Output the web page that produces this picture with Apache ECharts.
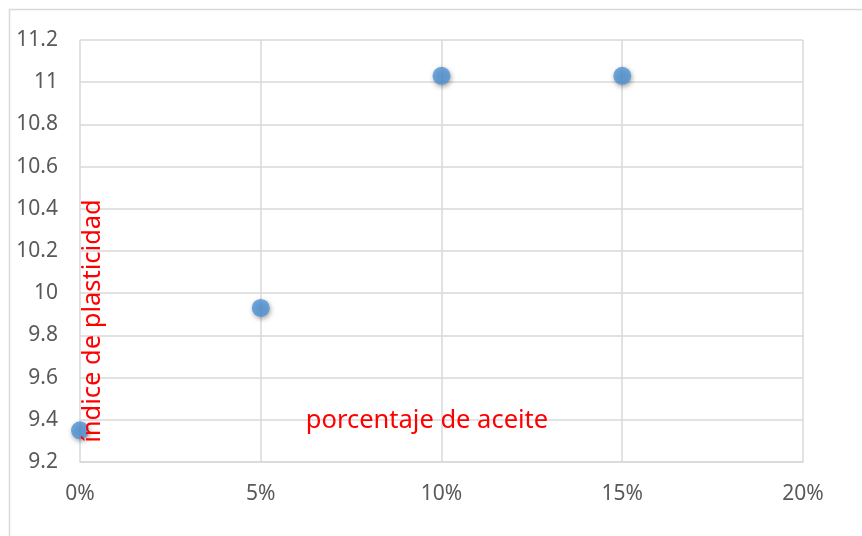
<!DOCTYPE html>
<html>
<head>
<meta charset="utf-8">
<script src="https://cdn.jsdelivr.net/npm/echarts@6/dist/echarts.min.js"></script>
<style>
  html, body { margin: 0; padding: 0; background: #fff; }
  #chart { width: 862px; height: 536px; }
</style>
</head>
<body>
<div id="chart"></div>
<script>
// Oil percentage (fraction) vs plasticity index
const oilPercent = [0, 0.05, 0.10, 0.15];
const plasticityIndex = [9.35, 9.93, 11.03, 11.03];
const xTitle = 'porcentaje de aceite';
const yTitle = 'índice de plasticidad';

const gridColor = '#d9d9d9';
const labelColor = '#595959';
const fontFamily = '"Noto Sans", "Liberation Sans", sans-serif';

const chart = echarts.init(document.getElementById('chart'), null, { renderer: 'canvas' });

chart.setOption({
  backgroundColor: '#ffffff',
  animation: false,
  grid: { left: 80, right: 59, top: 40, bottom: 74, containLabel: false },
  xAxis: {
    type: 'value',
    min: 0,
    max: 0.2,
    interval: 0.05,
    axisLine: { show: true, lineStyle: { color: gridColor, width: 1.5 } },
    axisTick: { show: false },
    splitLine: { show: true, lineStyle: { color: gridColor, width: 1.5 } },
    axisLabel: {
      color: labelColor,
      fontFamily: fontFamily,
      fontSize: 21,
      margin: 22,
      formatter: v => Math.round(v * 100) + '%'
    }
  },
  yAxis: {
    type: 'value',
    min: 9.2,
    max: 11.2,
    interval: 0.2,
    axisLine: { show: false },
    axisTick: { show: false },
    splitLine: { show: true, lineStyle: { color: gridColor, width: 1.5 } },
    axisLabel: {
      color: labelColor,
      fontFamily: fontFamily,
      fontSize: 21,
      margin: 22,
      formatter: v => String(parseFloat(v.toFixed(1)))
    }
  },
  graphic: [
    {
      type: 'rect',
      silent: true,
      shape: { x: 9.5, y: 9.5, width: 900, height: 600 },
      style: { fill: null, stroke: gridColor, lineWidth: 1.5 },
      z: -1
    },
    {
      type: 'text',
      silent: true,
      x: 427,
      y: 421,
      style: {
        text: xTitle,
        fill: '#ff0000',
        font: '25.5px ' + fontFamily,
        textAlign: 'center',
        textVerticalAlign: 'middle'
      },
      z: 10
    },
    {
      type: 'text',
      silent: true,
      x: 93,
      y: 321,
      rotation: Math.PI / 2,
      style: {
        text: yTitle,
        fill: '#ff0000',
        font: '25.5px ' + fontFamily,
        textAlign: 'center',
        textVerticalAlign: 'middle'
      },
      z: 10
    }
  ],
  series: [{
    type: 'scatter',
    data: oilPercent.map((x, i) => [x, plasticityIndex[i]]),
    symbol: 'circle',
    symbolSize: 18,
    itemStyle: {
      color: '#4f94d6',
      shadowColor: 'rgba(0,0,0,0.45)',
      shadowBlur: 5,
      shadowOffsetX: 1,
      shadowOffsetY: 2
    },
    z: 3
  }]
});
</script>
</body>
</html>
